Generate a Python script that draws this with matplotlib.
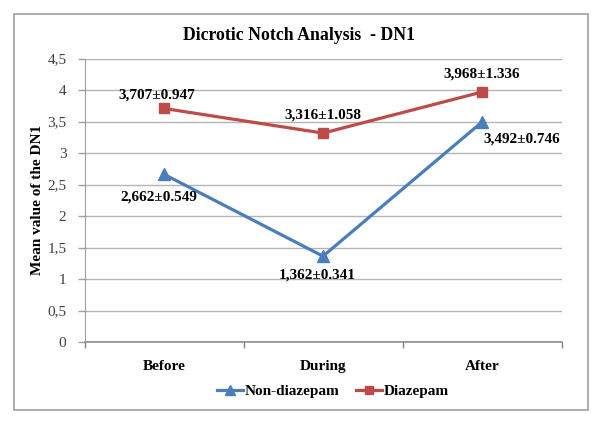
import matplotlib
matplotlib.use("Agg")
import matplotlib.pyplot as plt
from matplotlib.patches import Rectangle
from matplotlib.lines import Line2D

categories = ["Before", "During", "After"]
non_diazepam = [2.662, 1.362, 3.492]
diazepam = [3.707, 3.316, 3.968]
non_labels = ["2,662±0.549", "1,362±0.341", "3,492±0.746"]
dia_labels = ["3,707±0.947", "3,316±1.058", "3,968±1.336"]
y_ticks = [0, 0.5, 1, 1.5, 2, 2.5, 3, 3.5, 4, 4.5]
y_tick_labels = ["0", "0,5", "1", "1,5", "2", "2,5", "3", "3,5", "4", "4,5"]

BLUE = "#4a7ebb"
RED = "#be4b48"
SERIF = ["Liberation Serif", "DejaVu Serif"]

W, H = 600, 422
fig = plt.figure(figsize=(6, 4.22), dpi=100)
fig.patch.set_facecolor("white")

# outer border
fig.patches.append(Rectangle((14 / W, (H - 410) / H), (588 - 14) / W, (410 - 14) / H,
                             transform=fig.transFigure, fill=False,
                             edgecolor="#a6a6a6", linewidth=1.3))

ax = fig.add_axes([84.5 / W, (H - 342) / H, (561.5 - 84.5) / W, (342 - 58.5) / H])
x = list(range(len(categories)))

ax.plot(x, diazepam, color=RED, lw=2.3, marker="s", ms=7.5, zorder=3)
ax.plot(x, non_diazepam, color=BLUE, lw=2.3, marker="^", ms=9, zorder=3)

ax.set_xlim(-0.5, 2.5)
ax.set_ylim(0, 4.5)

ax.set_yticks(y_ticks)
ax.set_yticklabels(y_tick_labels, fontfamily=SERIF, fontsize=11, color="#404040")
ax.tick_params(axis="y", length=5, color="#a0a0a0", width=1, pad=8)
ax.yaxis.grid(True, color="#b4b4b4", lw=1)
ax.set_axisbelow(True)

ax.set_xticks(x)
ax.set_xticklabels(categories, fontfamily=SERIF, fontsize=11, fontweight="bold")
ax.tick_params(axis="x", length=0, pad=13)
ax.set_xticks([-0.5, 0.5, 1.5, 2.5], minor=True)
ax.tick_params(axis="x", which="minor", length=4, color="#808080", width=1, direction="out")

for s in ["top", "right"]:
    ax.spines[s].set_visible(False)
ax.spines["left"].set_color("#a0a0a0")
ax.spines["bottom"].set_color("#8c8c8c")
ax.spines["bottom"].set_linewidth(1.2)

ax.set_ylabel("Mean value of the DN1", fontfamily=SERIF, fontsize=11,
              fontweight="bold", labelpad=2.5)

fig.text(299 / W, (H - 35) / H, "Dicrotic Notch Analysis  - DN1", fontfamily=SERIF,
         fontsize=12.8, fontweight="bold", ha="center", va="center")

k = 0.72  # px -> pt
dia_off = [(-7.5, 13), (0, 18), (0, 18)]
non_off = [(-5, -23), (-6, -19), (40, -17)]
for i in range(3):
    ax.annotate(dia_labels[i], (x[i], diazepam[i]),
                xytext=(dia_off[i][0] * k, dia_off[i][1] * k), textcoords="offset points",
                ha="center", va="center", fontfamily=SERIF, fontsize=11, fontweight="bold")
    ax.annotate(non_labels[i], (x[i], non_diazepam[i]),
                xytext=(non_off[i][0] * k, non_off[i][1] * k), textcoords="offset points",
                ha="center", va="center", fontfamily=SERIF, fontsize=11, fontweight="bold")

handles = [Line2D([], [], color=BLUE, lw=2.3, marker="^", ms=7),
           Line2D([], [], color=RED, lw=2.3, marker="s", ms=6)]
fig.legend(handles, ["Non-diazepam", "Diazepam"], loc="center",
           bbox_to_anchor=(333 / W, (H - 391.5) / H), ncol=2, frameon=False,
           prop={"family": SERIF, "size": 11, "weight": "bold"},
           handlelength=1.7, handletextpad=0.1, columnspacing=1.1)

fig.savefig("out.png", dpi=100)
